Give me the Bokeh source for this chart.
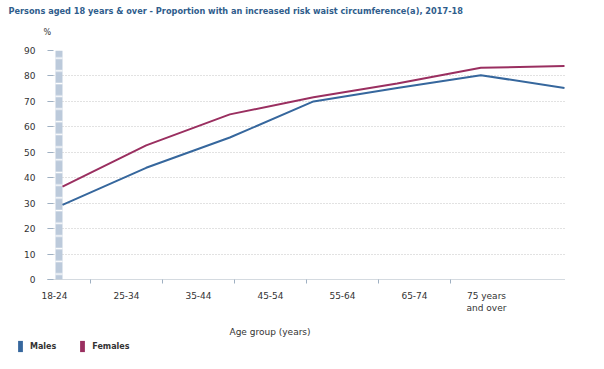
from bokeh.plotting import figure
from bokeh.layouts import column
from bokeh.models import (FixedTicker, Title, Legend, LegendItem, ColumnDataSource,
                          Range1d, CustomJSTickFormatter)
from bokeh.embed import file_html
from bokeh.resources import INLINE

categories = ["18-24", "25-34", "35-44", "45-54", "55-64", "65-74", "75 years\nand over"]
males = [29.3, 43.9, 55.8, 70.0, 75.3, 80.3, 75.3]
females = [36.5, 52.7, 64.9, 71.6, 77.0, 83.2, 83.9]
y_ticks = list(range(0, 100, 10))

MALE_C = "#36679d"
FEMALE_C = "#9a2f60"
FONT = "DejaVu Sans"

x_idx = list(range(len(categories)))
src = ColumnDataSource(dict(x=x_idx, males=males, females=females))

# layout geometry (pixels)
unit = 83.67          # px per category step for the data points
band = 72.0           # px per label band
first_label_off = -8  # px offset of first label from first point
c0 = first_label_off / unit
w = band / unit

label_pos = [c0 + w * i for i in range(len(categories))]
bound_pos = [c0 + w * (i + 0.5) for i in range(len(categories) - 1)]

p = figure(width=588, height=346, output_backend="svg", toolbar_location=None,
           x_range=Range1d(-15 / unit, len(categories) - 1 + 1 / unit),
           y_range=Range1d(0, 90),
           min_border_left=47, min_border_right=23, min_border_top=50, min_border_bottom=66)
p.frame_align = False
p.outline_line_color = None
p.background_fill_color = "white"
p.border_fill_color = "white"

# titles (spacer first so that "%" sits a little higher above the frame)
p.add_layout(Title(text=" ", text_font_size="3px", standoff=0), "above")
p.add_layout(Title(text="%", align="left", offset=-4, text_font=FONT,
                   text_font_size="8px", text_font_style="normal",
                   text_color="#333333", standoff=17), "above")

p.title.text = "Persons aged 18 years & over - Proportion with an increased risk waist circumference(a), 2017-18"
p.title.align = "left"
p.title.offset = -39
p.title.text_font = FONT
p.title.text_font_size = "8.2px"
p.title.text_font_style = "bold"
p.title.text_color = "#2f5d8c"
p.title.standoff = 4

# grid
p.xgrid.visible = False
p.ygrid.ticker = FixedTicker(ticks=y_ticks)
p.ygrid.grid_line_color = "#c4c4c4"
p.ygrid.grid_line_dash = "1 2"

# y axis
ya = p.yaxis[0]
ya.ticker = FixedTicker(ticks=y_ticks)
ya.axis_line_color = None
ya.major_tick_line_color = "#9fb0c2"
ya.major_tick_in = 6
ya.major_tick_out = 0
ya.minor_tick_line_color = None
ya.major_label_text_font = FONT
ya.major_label_text_font_size = "9px"
ya.major_label_text_color = "#333333"
ya.major_label_standoff = 12

# striped bar along the value axis
bar_src = ColumnDataSource(dict(left=[-7 / unit], right=[0], bottom=[y_ticks[0]], top=[y_ticks[-1]]))
p.quad(left="left", right="right", bottom="bottom", top="top", source=bar_src,
       fill_color="#bccadb", line_color=None,
       hatch_pattern="horizontal_line", hatch_color="white", hatch_scale=12.7, hatch_weight=1.5)

# x axis
xa = p.xaxis[0]
xa.ticker = FixedTicker(ticks=label_pos, minor_ticks=bound_pos)
xa.formatter = CustomJSTickFormatter(args=dict(labels=categories, c0=c0, w=w),
                                     code="return labels[Math.round((tick - c0) / w)];")
xa.axis_line_color = "#a8b4c0"
xa.axis_line_dash = "1 1"
xa.major_tick_line_color = None
xa.major_tick_out = 0
xa.major_tick_in = 0
xa.minor_tick_line_color = "#9fb0c2"
xa.minor_tick_in = 0
xa.minor_tick_out = 4
xa.major_label_text_font = FONT
xa.major_label_text_font_size = "9px"
xa.major_label_text_color = "#333333"
xa.major_label_standoff = 7

p.add_layout(Title(text="Age group (years)", align="left", offset=182, text_font=FONT,
                   text_font_size="9px", text_font_style="normal",
                   text_color="#333333", standoff=19), "below")

# lines
p.line("x", "males", source=src, line_color=MALE_C, line_width=2)
p.line("x", "females", source=src, line_color=FEMALE_C, line_width=2)

# legend strip below the chart (zero-height proxy bars carry the legend swatches)
lf = figure(width=588, height=14, output_backend="svg", toolbar_location=None,
            min_border=0, x_range=Range1d(0, 1), y_range=Range1d(0, 1),
            x_axis_location=None, y_axis_location=None)
lf.frame_align = False
lf.margin = (-7, 0, 0, 0)
lf.outline_line_color = None
lf.border_fill_alpha = 0
lf.background_fill_alpha = 0
lf.grid.visible = False
proxy = ColumnDataSource(dict(x=[0], top=[0]))
sm = lf.vbar(x="x", top="top", width=0.01, source=proxy, fill_color=MALE_C, line_color=None)
sf = lf.vbar(x="x", top="top", width=0.01, source=proxy, fill_color=FEMALE_C, line_color=None)

legend = Legend(items=[LegendItem(label="Males", renderers=[sm]),
                       LegendItem(label="Females", renderers=[sf])],
                orientation="horizontal", location=(17, 0),
                glyph_width=6, glyph_height=14, label_standoff=7, spacing=23,
                padding=0, margin=0, border_line_color=None, background_fill_alpha=0,
                label_text_font=FONT, label_text_font_size="8px",
                label_text_font_style="bold", label_text_color="#333333",
                label_height=14)
lf.add_layout(legend, "center")

open("out.html", "w").write(file_html(column(p, lf), INLINE))
